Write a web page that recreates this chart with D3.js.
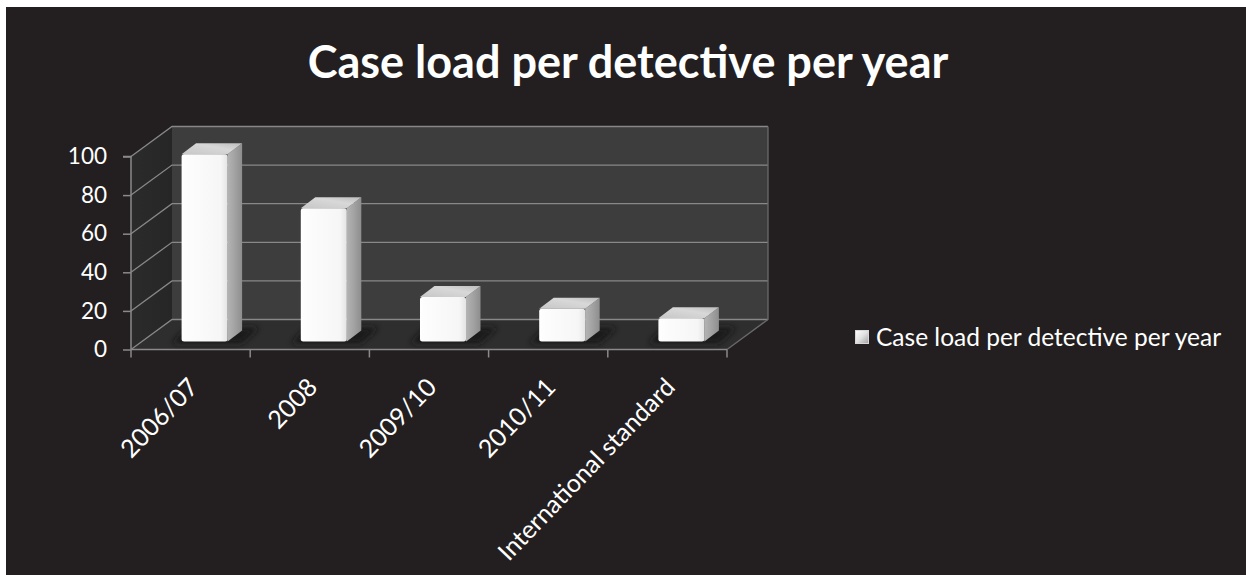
<!DOCTYPE html>
<html>
<head>
<meta charset="utf-8">
<script src="https://cdn.jsdelivr.net/npm/d3@7/dist/d3.min.js"></script>
<style>
  html, body { margin: 0; padding: 0; background: #ffffff; }
  svg { display: block; }
  text { font-family: Lato, "Open Sans", sans-serif; fill: #ffffff; }
</style>
</head>
<body>
<svg id="chart" width="1246" height="575"></svg>
<script>
// Case load per detective, by period
const categories = ["2006/07", "2008", "2009/10", "2010/11", "International standard"];
const caseLoad = [97, 69, 23, 17, 12];
const yTicks = [0, 20, 40, 60, 80, 100];
const seriesName = "Case load per detective per year";
const chartTitle = "Case load per detective per year";

const W = 1246, H = 575;
const svg = d3.select("#chart");

// plot geometry (front plane + receding depth)
const front = { left: 131, right: 727, bottom: 349.5, top: 156.5 };
const depth = { dx: 41, dy: -30 };

const x = d3.scaleBand().domain(categories).range([front.left, front.right]).paddingInner(0).paddingOuter(0);
const y = d3.scaleLinear().domain([0, 100]).range([front.bottom, front.top]);

const defs = svg.append("defs");
const lin = (id, stops, x1, y1, x2, y2) => {
  const g = defs.append("linearGradient").attr("id", id)
    .attr("x1", x1).attr("y1", y1).attr("x2", x2).attr("y2", y2);
  stops.forEach(([o, c]) => g.append("stop").attr("offset", o).attr("stop-color", c));
};
lin("gFront", [[0, "#ffffff"], [0.08, "#fdfdfd"], [0.85, "#f6f6f6"], [1, "#e4e4e4"]], 0, 0, 1, 0);
lin("gSide", [[0, "#b4b4b4"], [0.5, "#a2a2a2"], [1, "#8e8e8e"]], 0, 0, 1, 0);
lin("gTop", [[0, "#c6c6c6"], [0.6, "#d8d8d8"], [1, "#bdbdbd"]], 0, 1, 1, 0);
lin("gLeftWall", [[0, "#2b2b2b"], [1, "#262626"]], 0, 0, 1, 0);
lin("gLegend", [[0, "#ffffff"], [0.5, "#e0e0e0"], [1, "#a0a0a0"]], 0, 0, 1, 1);
defs.append("filter").attr("id", "soft").attr("x", "-30%").attr("y", "-60%").attr("width", "160%").attr("height", "220%")
  .append("feGaussianBlur").attr("stdDeviation", 3);

// chart area
svg.append("rect").attr("x", 6).attr("y", 7).attr("width", W - 6).attr("height", H - 7).attr("fill", "#231f20");

// title
svg.append("text")
  .attr("x", 628).attr("y", 78)
  .attr("text-anchor", "middle")
  .style("font-weight", 700).style("font-size", "45px")
  .text(chartTitle);

const P = (px, py) => [px, py];
const line = d3.line();
const yBack = v => y(v) + depth.dy;
const xBackL = front.left + depth.dx, xBackR = front.right + depth.dx;

// walls and floor
svg.append("path").attr("fill", "url(#gLeftWall)")
  .attr("d", line([P(front.left, y(100)), P(xBackL, yBack(100)), P(xBackL, yBack(0)), P(front.left, y(0))]) + "Z");
svg.append("path").attr("fill", "#3d3d3d")
  .attr("d", line([P(xBackL, yBack(100)), P(xBackR, yBack(100)), P(xBackR, yBack(0)), P(xBackL, yBack(0))]) + "Z");
svg.append("path").attr("fill", "#2e2e2e")
  .attr("d", line([P(front.left, y(0)), P(front.right, y(0)), P(xBackR, yBack(0)), P(xBackL, yBack(0))]) + "Z");

// gridlines: left wall diagonal + back wall horizontal
const gridColor = "#888888";
yTicks.forEach(t => {
  svg.append("path").attr("fill", "none").attr("stroke", gridColor).attr("stroke-width", 1.3)
    .attr("d", line([P(front.left, y(t)), P(xBackL, yBack(t)), P(xBackR, yBack(t))]));
});
// back wall right edge and floor right edge
svg.append("path").attr("fill", "none").attr("stroke", "#6a6a6a").attr("stroke-width", 1.3)
  .attr("d", line([P(xBackR, yBack(100)), P(xBackR, yBack(0)), P(front.right, y(0))]));

// y axis (front)
const yAxis = d3.axisLeft(y).tickValues(yTicks).tickSize(8).tickPadding(16).tickFormat(d3.format("d"));
const gy = svg.append("g").attr("transform", `translate(${front.left},0)`).call(yAxis);
gy.select(".domain").attr("stroke", "#8a8a8a").attr("stroke-width", 1.5).attr("d", `M-8,${y(100)}H0V${y(0)}`);
gy.selectAll(".tick line").attr("stroke", "#8a8a8a").attr("stroke-width", 1.5);
gy.selectAll(".tick text").attr("fill", "#ffffff").style("font-size", "22.5px").style("font-family", "Lato, sans-serif");

// x axis (front floor edge) with boundary ticks
const gx = svg.append("g");
gx.append("path").attr("stroke", "#8a8a8a").attr("stroke-width", 1.5).attr("fill", "none")
  .attr("d", `M${front.left},${y(0)}H${front.right}`);
const bounds = categories.map(c => x(c)).concat([front.right]);
gx.selectAll("line.tk").data(bounds).join("line").attr("class", "tk")
  .attr("x1", d => d).attr("x2", d => d).attr("y1", y(0)).attr("y2", y(0) + 8)
  .attr("stroke", "#8a8a8a").attr("stroke-width", 1.5);
gx.selectAll("text.cat").data(categories).join("text").attr("class", "cat")
  .attr("text-anchor", "end")
  .style("font-size", "25px")
  .attr("transform", d => `translate(${x(d) + x.bandwidth() / 2 + 9},${y(0) + 39}) rotate(-46)`)
  .text(d => d);

// bars
const barW = 46, barDx = 14.5, barDy = -11, barLift = 8, barShift = 14;
const bars = categories.map((c, i) => {
  const cx = x(c) + x.bandwidth() / 2 + barShift;
  return { L: cx - barW / 2, R: cx + barW / 2, B: y(0) - barLift, T: y(caseLoad[i]) - barLift };
});
// floor shadows
svg.append("g").attr("filter", "url(#soft)").selectAll("path").data(bars).join("path")
  .attr("fill", "#141414").attr("opacity", 0.9)
  .attr("d", b => line([P(b.L - 10, b.B + 2), P(b.R + 14, b.B + 2), P(b.R + 32, b.B - 14), P(b.L + 6, b.B - 14)]) + "Z");

const gb = svg.append("g").selectAll("g").data(bars).join("g");
gb.append("path").attr("fill", "url(#gSide)")
  .attr("d", b => line([P(b.R, b.B), P(b.R, b.T), P(b.R + barDx, b.T + barDy), P(b.R + barDx, b.B + barDy)]) + "Z");
gb.append("path").attr("fill", "url(#gTop)")
  .attr("d", b => line([P(b.L, b.T), P(b.L + barDx, b.T + barDy), P(b.R + barDx, b.T + barDy), P(b.R, b.T)]) + "Z");
gb.append("rect").attr("fill", "url(#gFront)")
  .attr("x", b => b.L).attr("y", b => b.T).attr("width", barW).attr("height", b => b.B - b.T)
  .attr("rx", 2.5);

// legend
svg.append("rect").attr("x", 855.5).attr("y", 330.5).attr("width", 13).attr("height", 13)
  .attr("fill", "url(#gLegend)").attr("stroke", "#d8d8d8").attr("stroke-width", 1);
svg.append("text").attr("x", 876).attr("y", 346)
  .style("font-size", "24.5px").text(seriesName);
</script>
</body>
</html>
